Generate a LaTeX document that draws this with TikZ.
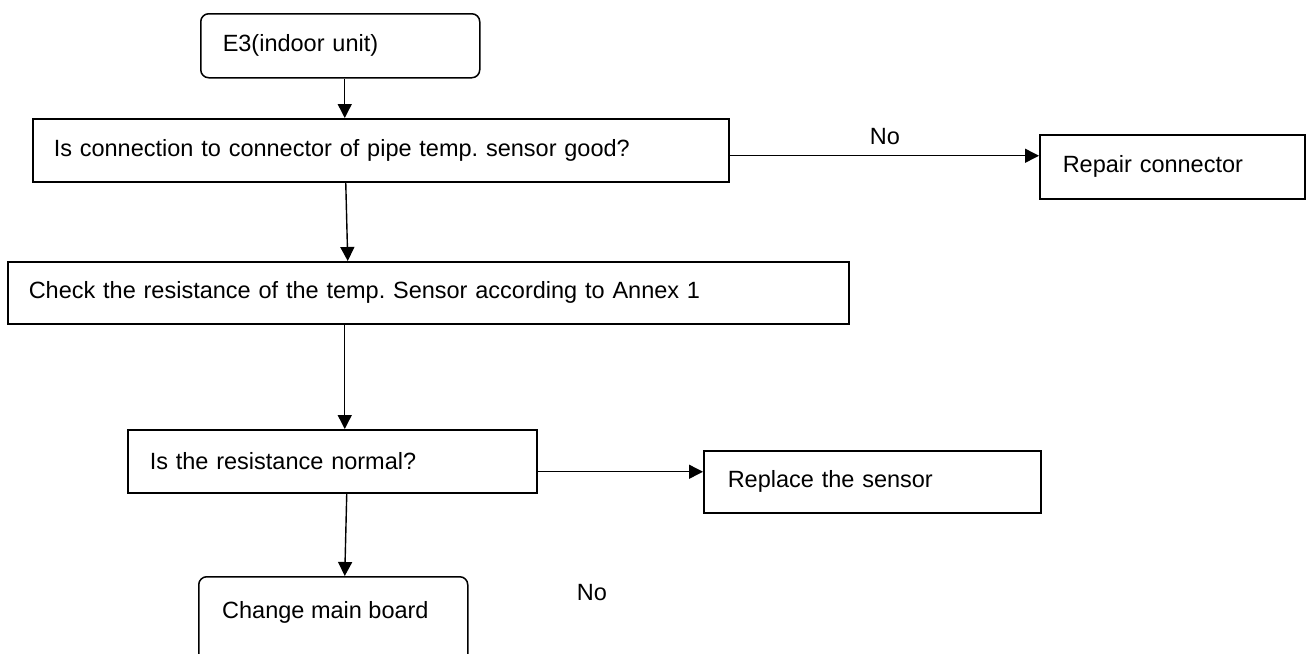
\documentclass[tikz,border=0pt]{standalone}
\usepackage{fontspec}
\setmainfont{Liberation Sans}
\usetikzlibrary{arrows.meta}
\frenchspacing
\begin{document}
\begin{tikzpicture}[x=1pt,y=-1pt,
  every node/.style={font=\fontsize{23.5pt}{28pt}\selectfont, inner ysep=0pt},
  flowbox/.style={draw, line width=1.5pt, anchor=north west, align=left},
  arr/.style={line width=1.4pt, -{Triangle[length=14pt,width=14pt]}},
  lbl/.style={inner sep=0pt}]
\useasboundingbox (0,0) rectangle (1311,653);
% boxes
\node[flowbox, rounded corners=8pt, minimum height=64pt, inner xsep=22pt, text width=235pt] (e3) at (200,13) {E3(indoor unit)};
\node[flowbox, minimum height=63pt, inner xsep=21pt, text width=654pt] (conn) at (32,118) {Is connection to connector of pipe temp. sensor good?};
\node[flowbox, minimum height=64pt, inner xsep=23pt, text width=219pt] (repair) at (1039,134) {Repair connector};
\node[flowbox, minimum height=62pt, inner xsep=21pt, text width=799pt] (check) at (7,261) {Check the resistance of the temp. Sensor according to Annex 1};
\node[flowbox, minimum height=63pt, inner xsep=22pt, text width=365pt] (normal) at (127,429) {Is the resistance normal?};
\node[flowbox, minimum height=62pt, inner xsep=24pt, text width=289pt] (replace) at (703,450) {Replace the sensor};
\node[flowbox, rounded corners=8pt, minimum height=130pt, minimum width=269pt, inner sep=0pt] (board) at (198,576) {};
\node[lbl, anchor=west] (boardtext) at (222,612) {Change main board};
% labels
\node[lbl] (no1) at (885,137) {No};
\node[lbl] (no2) at (592,593) {No};
% connectors
\draw[arr] ([xshift=4.5pt]e3.south) -- ([xshift=-36pt]conn.north);
\draw[arr] ([xshift=-35pt]conn.south) -- ([xshift=-80.5pt]check.north);
\draw[arr] ([yshift=-5.5pt]conn.east) -- ([yshift=-5.5pt]conn.east -| repair.west);
\draw[arr] ([xshift=-83.5pt]check.south) -- ([xshift=12.5pt]normal.north);
\draw[arr] ([yshift=-10.5pt]normal.east) -- ([yshift=-10.5pt]normal.east -| replace.west);
\draw[arr] ([xshift=14.5pt]normal.south) -- ([xshift=11.5pt]board.north);
\end{tikzpicture}
\end{document}
